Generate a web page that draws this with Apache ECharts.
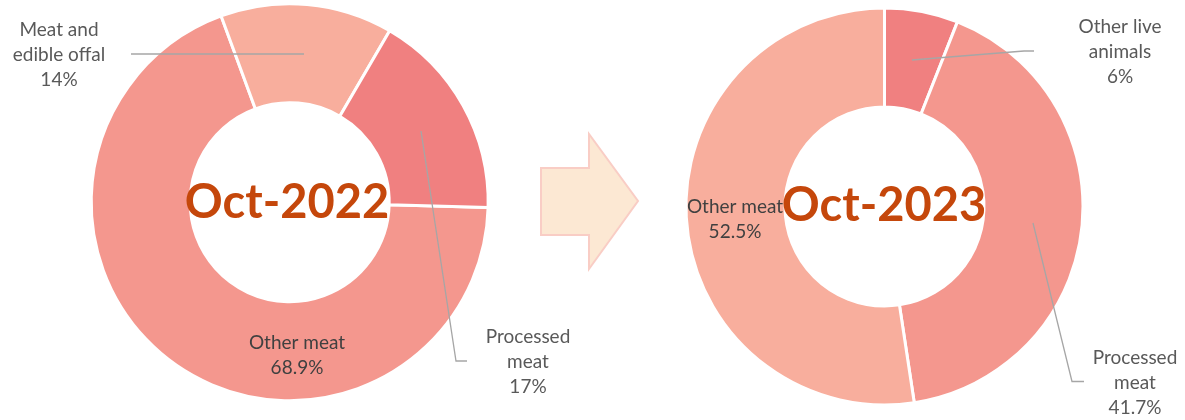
<!DOCTYPE html>
<html>
<head>
<meta charset="utf-8">
<script src="https://cdn.jsdelivr.net/npm/echarts@6/dist/echarts.min.js"></script>
<style>
html,body{margin:0;padding:0;background:#fff;}
#chart{width:1185px;height:420px;}
</style>
</head>
<body>
<div id="chart"></div>
<script>
// Oct-2022 donut (clockwise from ~3 o'clock)
const cats2022 = ['Other meat', 'Meat and\nedible offal', 'Processed\nmeat'];
const vals2022 = [68.9, 14, 17];
// Oct-2023 donut (clockwise from 12 o'clock)
const cats2023 = ['Other live\nanimals', 'Processed\nmeat', 'Other meat'];
const vals2023 = [6, 41.7, 52.5];
const titles = ['Oct-2022', 'Oct-2023'];

const colors2022 = ['#F4978E', '#F8AE9D', '#F08080'];
const colors2023 = ['#F08080', '#F4978E', '#F8AE9D'];

// label layout (positions of label blocks and leader lines)
const layout2022 = [
  {x: 297, y: 355, line: null, color: '#404040'},
  {x: 59, y: 55, line: [[304, 54], [217, 54], [131, 54]], color: '#595959'},
  {x: 528, y: 362, line: [[421, 131], [456, 361], [467, 361]], color: '#595959'}
];
const layout2023 = [
  {x: 1120, y: 52, line: [[912, 60], [1024, 51], [1034, 51]], color: '#595959'},
  {x: 1135, y: 383, line: [[1033, 223], [1072, 381.5], [1084, 381.5]], color: '#595959'},
  {x: 735, y: 219, line: null, color: '#404040'}
];

const FONT = 'Lato, "Open Sans", sans-serif';
const RADIUS = [99.5, 198.5];

function makeLayoutFn(lay) {
  return function (params) {
    const l = lay[params.dataIndex];
    const r = {x: l.x, y: l.y, align: 'center', verticalAlign: 'middle'};
    if (l.line) r.labelLinePoints = l.line;
    return r;
  };
}

// visible slices
function ringSeries(center, startAngle, cats, vals, colors) {
  return {
    type: 'pie',
    z: 2,
    center: center,
    radius: RADIUS,
    startAngle: startAngle,
    clockwise: true,
    silent: true,
    itemStyle: {borderColor: '#ffffff', borderWidth: 3},
    label: {show: false},
    labelLine: {show: false},
    emphasis: {disabled: true},
    data: cats.map((c, i) => ({name: c, value: vals[i], itemStyle: {color: colors[i]}}))
  };
}

// transparent twin that carries the labels and leader lines above the slices
function labelSeries(center, startAngle, cats, vals, lay) {
  return {
    type: 'pie',
    z: 5,
    center: center,
    radius: RADIUS,
    startAngle: startAngle,
    clockwise: true,
    silent: true,
    avoidLabelOverlap: false,
    itemStyle: {color: 'rgba(0,0,0,0)', borderWidth: 0},
    label: {
      show: true,
      position: 'outside',
      formatter: '{b}\n{c}%',
      fontFamily: FONT,
      fontSize: 19,
      lineHeight: 25,
      color: '#595959',
      width: 160,
      overflow: 'none',
      align: 'center'
    },
    labelLine: {
      show: true,
      length: 10,
      length2: 10,
      lineStyle: {color: '#A6A6A6', width: 1.3}
    },
    labelLayout: makeLayoutFn(lay),
    emphasis: {disabled: true},
    data: cats.map((c, i) => ({
      name: c,
      value: vals[i],
      label: {color: lay[i].color},
      labelLine: {show: !!lay[i].line}
    }))
  };
}

const chart = echarts.init(document.getElementById('chart'), null, {renderer: 'canvas'});
chart.setOption({
  animation: false,
  backgroundColor: '#ffffff',
  series: [
    ringSeries([289.7, 202.2], -1.5, cats2022, vals2022, colors2022),
    ringSeries([884.5, 206.5], 90, cats2023, vals2023, colors2023),
    labelSeries([289.7, 202.2], -1.5, cats2022, vals2022, layout2022),
    labelSeries([884.5, 206.5], 90, cats2023, vals2023, layout2023)
  ],
  graphic: [
    {
      type: 'polygon',
      z: 1,
      shape: {points: [[541, 168], [589, 168], [589, 134], [638, 201], [589, 269], [589, 235], [541, 235]]},
      style: {fill: '#FCE8D3', stroke: '#F9CDC5', lineWidth: 2}
    },
    {
      type: 'text',
      z: 100,
      x: 287, y: 203,
      style: {text: titles[0], font: 'bold 47px ' + FONT, fill: '#C5470B', textAlign: 'center', textVerticalAlign: 'middle'}
    },
    {
      type: 'text',
      z: 100,
      x: 884, y: 206,
      style: {text: titles[1], font: 'bold 47px ' + FONT, fill: '#C5470B', textAlign: 'center', textVerticalAlign: 'middle'}
    }
  ]
});
</script>
</body>
</html>
